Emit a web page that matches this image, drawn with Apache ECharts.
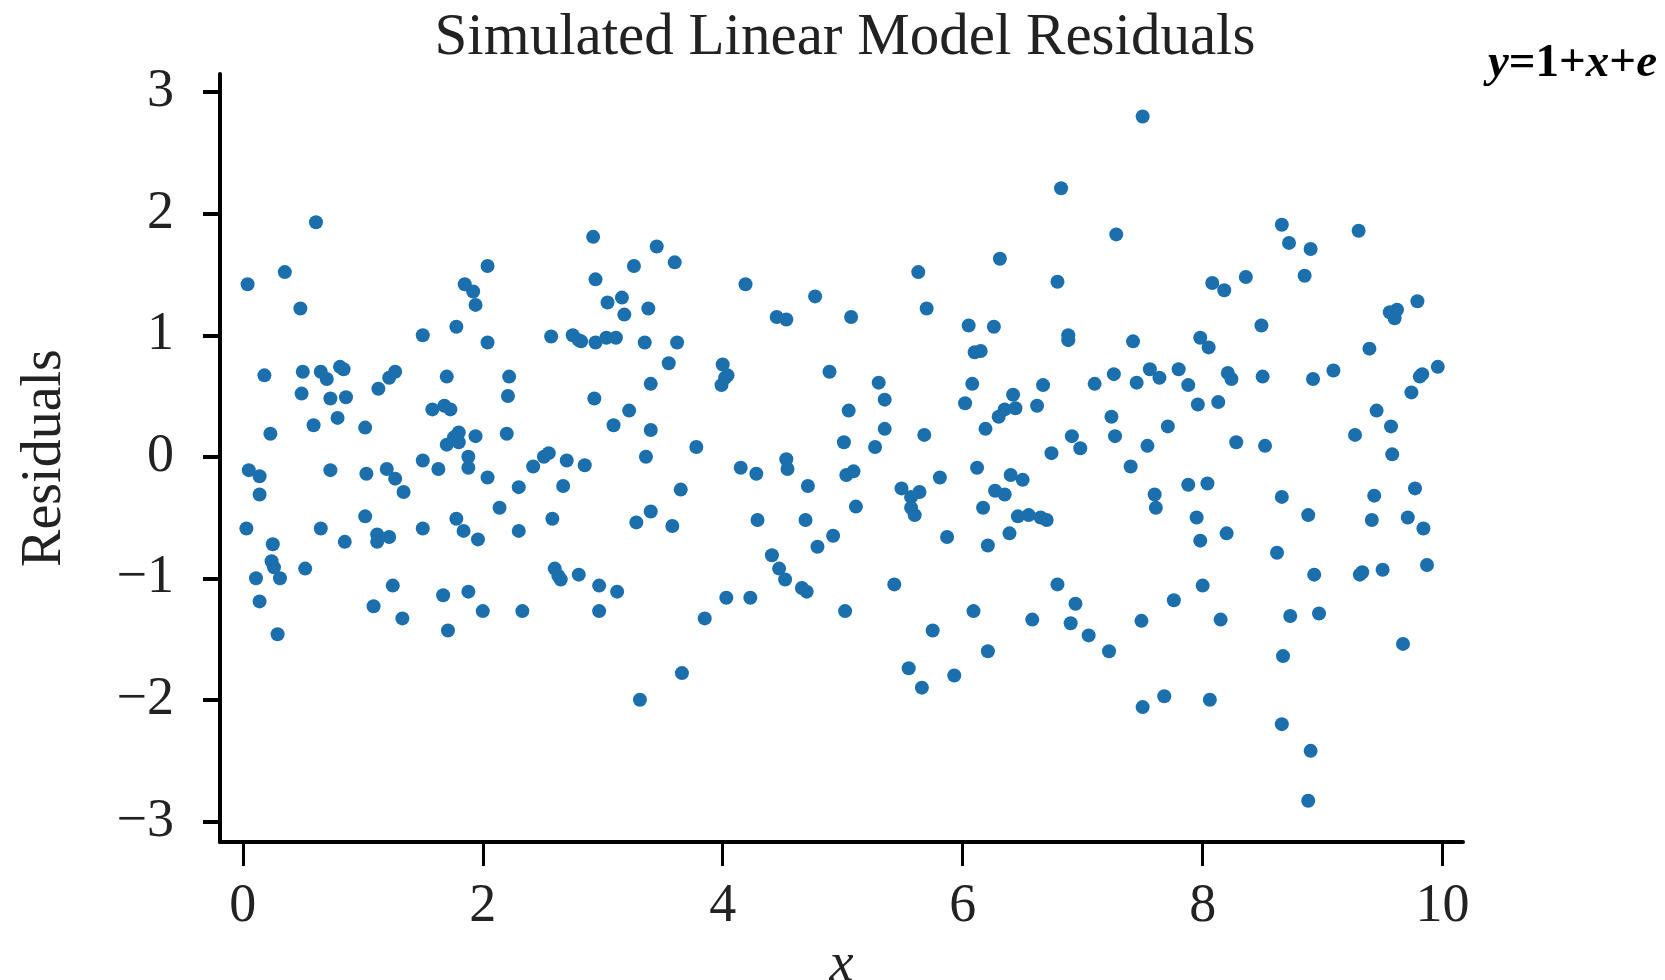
<!DOCTYPE html>
<html>
<head>
<meta charset="utf-8">
<script src="https://cdn.jsdelivr.net/npm/echarts@6/dist/echarts.min.js"></script>
<style>
  html, body { margin: 0; padding: 0; background: #fff; }
  #chart { width: 1665px; height: 980px; }
</style>
</head>
<body>
<div id="chart"></div>
<script>
// x positions of the simulated observations
const xValues = [
  0.04, 0.03, 0.05, 0.11, 0.14, 0.14, 0.14, 0.18, 0.23, 0.25, 0.24, 0.26, 0.31, 0.29, 0.35, 0.48, 0.50, 0.49, 0.52, 0.59,
  0.61, 0.65, 0.65, 0.70, 0.73, 0.73, 0.81, 0.84, 0.79, 0.86, 0.85, 1.02, 1.03, 1.02, 1.09, 1.12, 1.13, 1.12, 1.20, 1.22,
  1.22, 1.27, 1.27, 1.25, 1.34, 1.33, 1.50, 1.50, 1.50, 1.58, 1.63, 1.67, 1.68, 1.70, 1.70, 1.71, 1.73, 1.76, 1.78, 1.78,
  1.80, 1.80, 1.84, 1.85, 1.88, 1.88, 1.88, 1.92, 1.94, 1.94, 1.96, 2.00,
  2.04, 2.04, 2.04, 2.14, 2.20, 2.22, 2.21, 2.30, 2.30, 2.33, 2.42, 2.51, 2.57, 2.55, 2.58, 2.60, 2.63, 2.65, 2.67, 2.70,
  2.75, 2.80, 2.82, 2.80, 2.85, 2.92, 2.94, 2.93, 2.94, 2.97, 2.97, 3.03, 3.04, 3.09, 3.11, 3.12, 3.16, 3.18, 3.22, 3.26,
  3.28, 3.31, 3.35, 3.36, 3.38, 3.40, 3.40, 3.40, 3.45, 3.55, 3.58, 3.60, 3.62, 3.65, 3.66, 3.78, 3.85, 3.99, 4.00, 4.02,
  4.04, 4.03,
  4.15, 4.19, 4.23, 4.28, 4.29, 4.41, 4.45, 4.47, 4.53, 4.54, 4.53, 4.52, 4.66, 4.70, 4.69, 4.71, 4.77, 4.79, 4.89, 4.92,
  5.02, 5.01, 5.03, 5.05, 5.07, 5.09, 5.11, 5.30, 5.27, 5.35, 5.35, 5.43, 5.49, 5.55, 5.57, 5.57, 5.60, 5.63, 5.64, 5.66,
  5.68, 5.70, 5.75, 5.81, 5.87, 5.93,
  6.02, 6.05, 6.08, 6.09, 6.10, 6.12, 6.15, 6.17, 6.19, 6.21, 6.21, 6.26, 6.27, 6.31, 6.30, 6.35, 6.35, 6.40, 6.42, 6.39,
  6.44, 6.46, 6.50, 6.55, 6.58, 6.62, 6.65, 6.67, 6.70, 6.74, 6.79, 6.79, 6.82, 6.88, 6.88, 6.90, 6.91, 6.94, 6.98, 7.05,
  7.10, 7.22, 7.24, 7.26, 7.27, 7.28, 7.40, 7.42, 7.45, 7.49, 7.50, 7.50, 7.54, 7.56, 7.60, 7.61, 7.64, 7.68, 7.71, 7.76,
  7.80, 7.88, 7.88, 7.95, 7.96, 7.98, 7.98, 8.00, 8.04, 8.05,
  8.06, 8.08, 8.13, 8.15, 8.18, 8.20, 8.21, 8.24, 8.28, 8.36, 8.49, 8.50, 8.52, 8.62, 8.66, 8.66, 8.66, 8.67, 8.72, 8.73,
  8.85, 8.88, 8.90, 8.88, 8.90, 8.92, 8.93, 8.97, 9.09, 9.27, 9.30, 9.31, 9.33, 9.39, 9.41, 9.43, 9.45, 9.50, 9.56, 9.57,
  9.58, 9.60, 9.62, 9.67, 9.71, 9.74, 9.77, 9.79, 9.81, 9.83, 9.84, 9.87, 9.96
]

// residual of each observation, same order as xValues
const residuals = [
  1.42, -0.59, -0.11, -1.00, -0.16, -0.31, -1.19, 0.67, 0.19, -0.72, -0.86, -0.91, -1.00, -1.46, 1.52, 1.22, 0.70, 0.52, -0.92, 0.26,
  1.93, 0.70, -0.59, 0.64, 0.48, -0.11, 0.74, 0.72, 0.32, 0.49, -0.70, 0.24, -0.14, -0.49, -1.23, -0.64, 0.56, -0.70, -0.10, -0.66,
  0.65, 0.70, -0.18, -1.06, -0.29, -1.33, 1.00, -0.03, -0.59, 0.39, -0.10, -1.14, 0.42, 0.66, 0.10, -1.43, 0.39, 0.16, 1.07, -0.51,
  0.12, 0.20, -0.61, 1.42, 0.00, -1.11, -0.09, 1.36, 1.25, 0.17, -0.68, -1.27,
  1.57, 0.94, -0.17, -0.42, 0.19, 0.66, 0.50, -0.25, -0.61, -1.27, -0.08, 0.00, 0.99, 0.03, -0.51, -0.92, -0.98, -1.01, -0.24, -0.03,
  1.00, 0.96, 0.95, -0.97, -0.07, 1.81, 1.46, 0.48, 0.94, -1.06, -1.27, 0.98, 1.27, 0.26, 0.98, -1.11, 1.31, 1.17, 0.38, 1.57,
  -0.54, -2.00, 0.94, 0.00, 1.22, -0.45, 0.60, 0.22, 1.73, 0.77, -0.57, 1.60, 0.94, -0.27, -1.78, 0.08, -1.33, 0.59, 0.76, 0.65,
  0.67, -1.16,
  -0.09, 1.42, -1.16, -0.14, -0.52, -0.81, 1.15, -0.92, -0.02, -0.10, 1.13, -1.01, -1.08, -1.11, -0.52, -0.24, 1.32, -0.74, 0.70, -0.65,
  -1.27, 0.12, -0.15, 0.38, 1.15, -0.12, -0.41, 0.61, 0.08, 0.23, 0.47, -1.05, -0.26, -1.74, -0.33, -0.42, -0.48, 1.52, -0.29, -1.90,
  0.18, 1.22, -1.43, -0.17, -0.66, -1.80,
  0.44, 1.08, 0.60, -1.27, 0.86, -0.09, 0.87, -0.42, 0.23, -1.60, -0.73, 1.07, -0.28, 1.63, 0.33, 0.39, -0.31, -0.15, 0.51, -0.63,
  0.40, -0.49, -0.19, -0.48, -1.34, 0.42, -0.50, 0.59, -0.52, 0.03, -1.05, 1.44, 2.21, 1.00, 0.96, -1.37, 0.17, -1.21, 0.07, -1.47,
  0.60, -1.60, 0.33, 0.68, 0.17, 1.83, -0.08, 0.95, 0.61, -1.35, 2.80, -2.06, 0.09, 0.72, -0.31, -0.42, 0.65, -1.97, 0.25, -1.18,
  0.72, 0.59, -0.23, -0.50, 0.43, 0.98, -0.69, -1.06, -0.22, 0.90,
  -2.00, 1.43, 0.45, -1.34, 1.37, -0.63, 0.69, 0.64, 0.12, 1.48, 1.08, 0.66, 0.09, -0.79, 1.91, -2.20, -0.33, -1.64, 1.76, -1.31,
  1.49, -0.48, -2.42, -2.83, 1.71, 0.64, -0.97, -1.29, 0.71, 0.18, 1.86, -0.97, -0.95, 0.89, -0.52, -0.32, 0.38, -0.93, 1.19, 0.25,
  0.02, 1.14, 1.21, -1.54, -0.50, 0.53, -0.26, 1.28, 0.66, 0.68, -0.59, -0.89, 0.74
]

const xTicks = [0, 2, 4, 6, 8, 10]
const yTicks = [-3, -2, -1, 0, 1, 2, 3]

const points = xValues.map((x, i) => [x, residuals[i]])
const serif = 'Liberation Serif, Times New Roman, serif'
const minusFmt = (v) => (v < 0 ? '\u2212' + Math.abs(v) : String(v))

const chart = echarts.init(document.getElementById('chart'))

chart.setOption({
  animation: false,
  backgroundColor: '#fff',
  title: {
    text: 'Simulated Linear Model Residuals',
    left: 840,
    textAlign: 'center',
    top: 4,
    textStyle: { fontFamily: serif, fontSize: 59, fontWeight: 'normal', color: '#222' },
  },
  graphic: [
    {
      type: 'text',
      right: 8,
      top: 40,
      style: {
        text: '{i|y}{b|=1+}{i|x}{b|+}{i|e}',
        rich: {
          i: { fontFamily: serif, fontSize: 47, fontStyle: 'italic', fontWeight: 'bold', fill: '#000' },
          b: { fontFamily: serif, fontSize: 47, fontWeight: 'bold', fill: '#000' },
        },
      },
    },
  ],
  // keep the plot box fixed; labels live in the margins
  grid: { left: 220, right: 202, top: 74, bottom: 138, outerBoundsMode: 'none', containLabel: false },
  xAxis: {
    type: 'value',
    min: -0.19,
    max: 10.17,
    name: 'x',
    nameLocation: 'middle',
    nameGap: 74,
    nameTextStyle: { fontFamily: serif, fontSize: 54, fontStyle: 'italic', color: '#222' },
    axisLine: { show: true, onZero: false, lineStyle: { color: '#000', width: 4 } },
    axisTick: { show: true, customValues: xTicks, length: 24, lineStyle: { color: '#000', width: 3 } },
    axisLabel: {
      customValues: xTicks,
      margin: 38,
      fontFamily: serif,
      fontSize: 54,
      color: '#222',
      formatter: minusFmt,
    },
    splitLine: { show: false },
  },
  yAxis: {
    type: 'value',
    min: -3.17,
    max: 3.15,
    name: 'Residuals',
    nameLocation: 'middle',
    nameRotate: 90,
    nameGap: 147,
    nameTextStyle: { fontFamily: serif, fontSize: 56, color: '#222' },
    axisLine: { show: true, onZero: false, lineStyle: { color: '#000', width: 4 } },
    axisTick: { show: true, customValues: yTicks, length: 17, lineStyle: { color: '#000', width: 4 } },
    axisLabel: {
      customValues: yTicks,
      margin: 46,
      fontFamily: serif,
      fontSize: 54,
      color: '#222',
      formatter: minusFmt,
    },
    splitLine: { show: false },
  },
  series: [
    {
      type: 'scatter',
      data: points,
      symbolSize: 14,
      itemStyle: { color: '#1b6fad', opacity: 1 },
    },
  ],
})
</script>
</body>
</html>
